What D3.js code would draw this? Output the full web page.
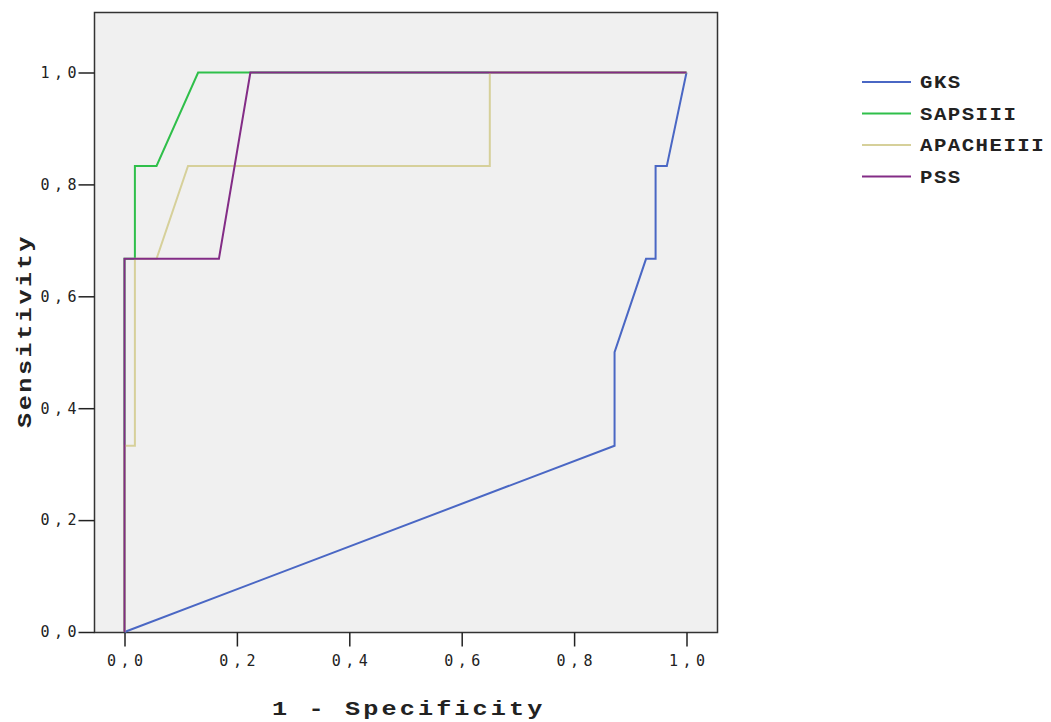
<!DOCTYPE html>
<html>
<head>
<meta charset="utf-8">
<script src="https://cdn.jsdelivr.net/npm/d3@7"></script>
<style>
  body { margin: 0; background: #fff; }
  svg text { fill: #222; }
</style>
</head>
<body>
<div id="chart"></div>
<script>
// ROC curves: [1 - specificity, sensitivity]
var seriesNames = ['GKS', 'SAPSIII', 'APACHEIII', 'PSS'];
var seriesColors = ['#4a67c4', '#2fbf4a', '#d6d09a', '#832c86'];

var gks = [[0, 0], [0.872, 0.333], [0.872, 0.5], [0.928, 0.667], [0.945, 0.667],
  [0.945, 0.833], [0.965, 0.833], [1, 1]];
var sapsiii = [[0, 0], [0, 0.667], [0.0185, 0.667], [0.0185, 0.833], [0.057, 0.833],
  [0.131, 1], [1, 1]];
var apacheiii = [[0, 0], [0, 0.333], [0.0185, 0.333], [0.0185, 0.667], [0.057, 0.667],
  [0.113, 0.833], [0.65, 0.833], [0.65, 1], [1, 1]];
var pss = [[0, 0], [0, 0.667], [0.168, 0.667], [0.224, 1], [1, 1]];

var xTicks = [0, 0.2, 0.4, 0.6, 0.8, 1.0];
var yTicks = [0, 0.2, 0.4, 0.6, 0.8, 1.0];

var allSeries = [gks, sapsiii, apacheiii, pss];

var width = 1051, height = 722;
var svg = d3.select('#chart').append('svg')
  .attr('width', width)
  .attr('height', height);

// plot frame (pixel box) and data range
var frame = {left: 94.5, right: 717.5, top: 12.5, bottom: 632.5};
var x = d3.scaleLinear().domain([0, 1]).range([124.5, 686.5]);
var y = d3.scaleLinear().domain([0, 1]).range([632, 72.5]);

var monoTitle = '"Liberation Mono", "Courier New", monospace';

svg.append('rect')
  .attr('x', frame.left).attr('y', frame.top)
  .attr('width', frame.right - frame.left)
  .attr('height', frame.bottom - frame.top)
  .attr('fill', '#f0f0f0')
  .attr('stroke', '#333')
  .attr('stroke-width', 1.5);

// axes
var tickFmt = function(d) { return d3.format('.1f')(d).replace('.', ','); };

var xAxis = svg.append('g')
  .attr('transform', 'translate(0,' + frame.bottom + ')')
  .call(d3.axisBottom(x).tickValues(xTicks).tickFormat(tickFmt).tickSize(14).tickPadding(9));
var yAxis = svg.append('g')
  .attr('transform', 'translate(' + frame.left + ',0)')
  .call(d3.axisLeft(y).tickValues(yTicks).tickFormat(tickFmt).tickSize(16).tickPadding(2));

[xAxis, yAxis].forEach(function(ax) {
  ax.select('.domain').remove();
  ax.selectAll('.tick line').attr('stroke', '#222').attr('stroke-width', 1.5);
  ax.selectAll('.tick text')
    .style('font-family', '"DejaVu Sans Mono", monospace')
    .style('font-size', '15px')
    .style('letter-spacing', '4.5px')
    .attr('fill', '#333');
});
// letter-spacing leaves a trailing gap; pull labels back
xAxis.selectAll('.tick text').attr('dx', '2.25px');
yAxis.selectAll('.tick text').attr('dx', '4.5px');

// curves
var line = d3.line()
  .x(function(d) { return x(d[0]); })
  .y(function(d) { return y(d[1]); });

svg.append('g').selectAll('path')
  .data(allSeries)
  .enter().append('path')
  .attr('d', line)
  .attr('fill', 'none')
  .attr('stroke', function(d, i) { return seriesColors[i]; })
  .attr('stroke-width', 2)
  .attr('stroke-linejoin', 'miter');

// axis titles (glyphs stretched a bit to get the wide courier look)
svg.append('text')
  .attr('transform', 'translate(272,715) scale(1.2,1)')
  .style('font-family', monoTitle)
  .style('font-weight', 'bold')
  .style('font-size', '21px')
  .style('letter-spacing', '2.6px')
  .text('1 - Specificity');

svg.append('text')
  .attr('transform', 'translate(31,428) rotate(-90) scale(1.2,1)')
  .style('font-family', monoTitle)
  .style('font-weight', 'bold')
  .style('font-size', '21px')
  .style('letter-spacing', '2.1px')
  .text('Sensitivity');

// legend
var legend = svg.append('g').selectAll('g')
  .data(seriesNames)
  .enter().append('g')
  .attr('transform', function(d, i) { return 'translate(862,' + (82 + i * 31.5) + ')'; });

legend.append('line')
  .attr('x1', 0).attr('x2', 49)
  .attr('stroke', function(d, i) { return seriesColors[i]; })
  .attr('stroke-width', 2);

legend.append('text')
  .attr('transform', 'translate(58,6) scale(1.15,1)')
  .style('font-family', monoTitle)
  .style('font-size', '18px')
  .style('font-weight', 'bold')
  .style('letter-spacing', '1.3px')
  .attr('fill', '#333')
  .text(function(d) { return d; });
</script>
</body>
</html>
